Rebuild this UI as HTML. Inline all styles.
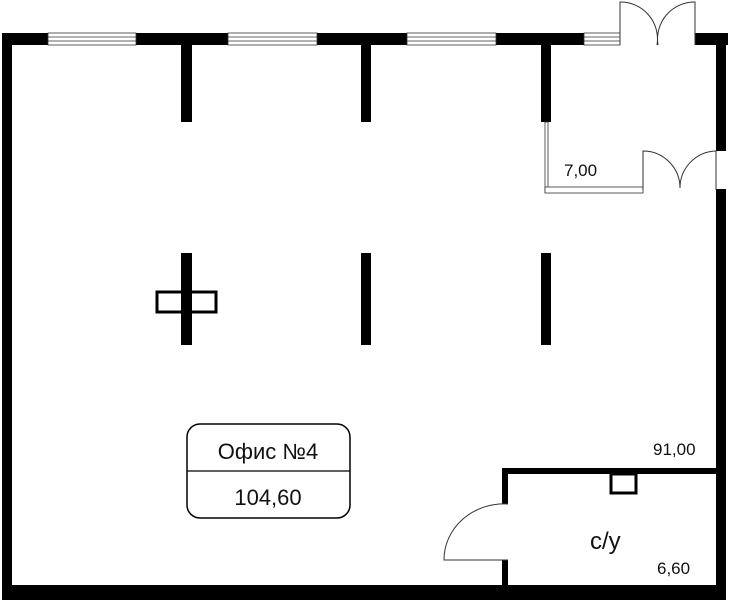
<!DOCTYPE html>
<html><head><meta charset="utf-8"><style>
html,body{margin:0;padding:0;background:#fff;}
svg{display:block;}
text{font-family:"Liberation Sans",sans-serif;fill:#111;}
</style></head><body>
<svg width="733" height="600" viewBox="0 0 733 600" xmlns="http://www.w3.org/2000/svg">
<rect width="733" height="600" fill="#fff"/>
<g fill="#000">
<rect x="2" y="33" width="46" height="12"/>
<rect x="136" y="33" width="92" height="12"/>
<rect x="317" y="33" width="90" height="12"/>
<rect x="496" y="33" width="88" height="12"/>
<rect x="695" y="33" width="33" height="12"/>
<rect x="2" y="33" width="10" height="567"/>
<rect x="716" y="33" width="10" height="118"/>
<rect x="716" y="189" width="10" height="411"/>
<rect x="2" y="585" width="724" height="15"/>
<rect x="181" y="45" width="11" height="77"/>
<rect x="361" y="45" width="10" height="77"/>
<rect x="541" y="45" width="10" height="77"/>
<rect x="181" y="253" width="11" height="92"/>
<rect x="361" y="253" width="10" height="92"/>
<rect x="541" y="253" width="10" height="92"/>
<rect x="502" y="468" width="216" height="6"/>
<rect x="502" y="468" width="6" height="36"/>
<rect x="502" y="560" width="6" height="28"/>
</g>
<g stroke="#333" stroke-width="0.8" fill="#fff">
<rect x="48" y="33" width="88" height="12"/>
<rect x="228" y="33" width="89" height="12"/>
<rect x="407" y="33" width="89" height="12"/>
<rect x="584" y="33" width="36" height="12"/>
<line x1="48" y1="37" x2="136" y2="37"/><line x1="48" y1="41" x2="136" y2="41"/>
<line x1="228" y1="37" x2="317" y2="37"/><line x1="228" y1="41" x2="317" y2="41"/>
<line x1="407" y1="37" x2="496" y2="37"/><line x1="407" y1="41" x2="496" y2="41"/>
<line x1="584" y1="37" x2="620" y2="37"/><line x1="584" y1="41" x2="620" y2="41"/>
<rect x="545" y="122" width="3" height="70"/>
<rect x="545" y="187" width="98" height="6"/>
</g>
<g stroke="#333" stroke-width="1" fill="none">
<path d="M620 45 V2 A37 37 0 0 1 657 45"/>
<path d="M695 45 V2 A37 37 0 0 0 658 45"/>
<path d="M643 190 V151 A37 37 0 0 1 680 188"/>
<path d="M716 151 A37 37 0 0 0 680 188"/>
<line x1="716" y1="151" x2="716" y2="190"/>
<path d="M508 504 A60 56 0 0 0 444 560 H508"/>
</g>
<rect x="157" y="292" width="59" height="20" fill="none" stroke="#000" stroke-width="3"/>
<rect x="611" y="474" width="25" height="19" fill="none" stroke="#000" stroke-width="3"/>
<rect x="187" y="424" width="163" height="94" rx="13" fill="#fff" stroke="#000" stroke-width="1.5"/>
<line x1="187" y1="471" x2="350" y2="471" stroke="#000" stroke-width="1.2"/>
<text x="268" y="459" font-size="22" text-anchor="middle">Офис №4</text>
<text x="268" y="505" font-size="22" text-anchor="middle">104,60</text>
<text x="564" y="176" font-size="17">7,00</text>
<text x="653" y="455" font-size="17">91,00</text>
<text x="590" y="549" font-size="24">с/у</text>
<text x="657" y="574" font-size="17">6,60</text>
</svg>
</body></html>
